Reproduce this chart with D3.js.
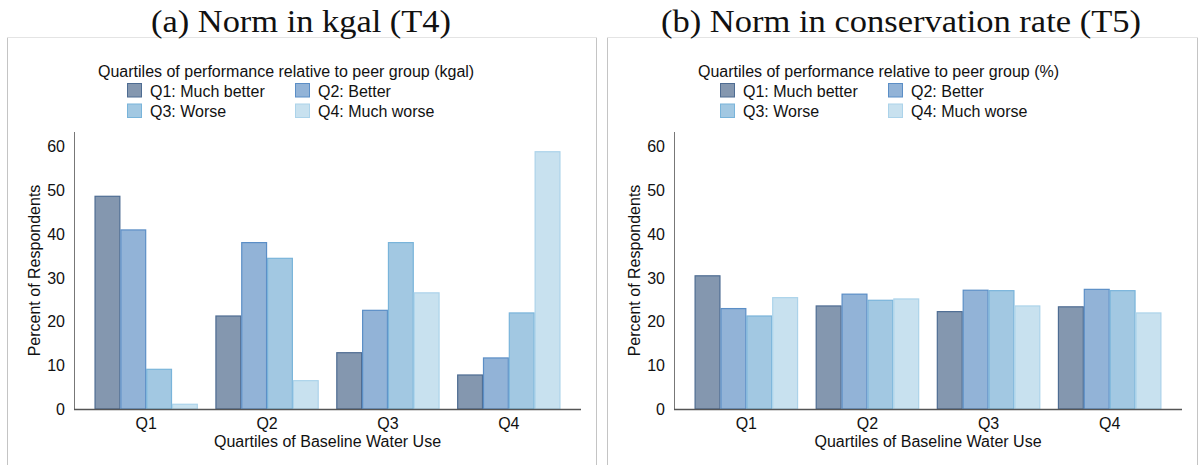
<!DOCTYPE html>
<html>
<head>
<meta charset="utf-8">
<script src="https://cdn.jsdelivr.net/npm/d3@7/dist/d3.min.js"></script>
<style>
  html, body { margin: 0; padding: 0; background: #fff; }
  svg { display: block; }
  .sans { font-family: "Liberation Sans", Arial, Helvetica, sans-serif; }
  .serif { font-family: "Liberation Serif", "DejaVu Serif", serif; }
</style>
</head>
<body>
<svg id="chart" width="1199" height="465"></svg>
<script>
// Baseline water use quartiles (x categories)
const categories = ["Q1", "Q2", "Q3", "Q4"];
// Peer-comparison performance quartiles (bar series)
const seriesNames = ["Q1: Much better", "Q2: Better", "Q3: Worse", "Q4: Much worse"];
const seriesFill = ["#8497af", "#92b3d7", "#a2c8e2", "#c8e1ef"];
const seriesStroke = ["#4e6c92", "#5b8ec6", "#79b4da", "#acd3ea"];
const yTicks = [0, 10, 20, 30, 40, 50, 60];

// Panel (a): norm in kgal — rows = baseline quartile, columns = performance quartile
const kgalValues = [
  [48.8, 41.1, 9.2, 1.2],
  [21.4, 38.2, 34.6, 6.6],
  [13.0, 22.7, 38.2, 26.7],
  [7.9, 11.8, 22.1, 59.0]
];
// Panel (b): norm in conservation rate
const rateValues = [
  [30.6, 23.1, 21.4, 25.6],
  [23.7, 26.4, 25.0, 25.3],
  [22.4, 27.3, 27.2, 23.7],
  [23.5, 27.5, 27.2, 22.1]
];

const panels = [
  { title: "(a) Norm in kgal (T4)", legendTitle: "Quartiles of performance relative to peer group (kgal)",
    values: kgalValues, x0: 0, frame: [7, 596], titleX: 301, titleW: 300,
    legendX: 98, swX: 127, col2: 168, axis: [74, 581] },
  { title: "(b) Norm in conservation rate (T5)", legendTitle: "Quartiles of performance relative to peer group (%)",
    values: rateValues, x0: 600, frame: [607, 1197], titleX: 901, titleW: 480,
    legendX: 698, swX: 720, col2: 168, axis: [674, 1182] }
];

const svg = d3.select("#chart");
const FS = 16;

panels.forEach(p => {
  const g = svg.append("g");

  // panel frame
  g.append("line").attr("x1", p.frame[0] + 0.5).attr("x2", p.frame[0] + 0.5)
    .attr("y1", 37).attr("y2", 470).attr("stroke", "#c4c4c4");
  g.append("line").attr("x1", p.frame[1] + 0.5).attr("x2", p.frame[1] + 0.5)
    .attr("y1", 37).attr("y2", 470).attr("stroke", "#c4c4c4");
  g.append("line").attr("x1", p.frame[0]).attr("x2", p.frame[1] + 1)
    .attr("y1", 37.5).attr("y2", 37.5).attr("stroke", "#e4e4e4");

  // panel title
  g.append("text").attr("class", "serif")
    .attr("x", p.titleX).attr("y", 32)
    .attr("text-anchor", "middle").attr("font-size", 31).attr("fill", "#111")
    .attr("textLength", p.titleW).attr("lengthAdjust", "spacingAndGlyphs")
    .text(p.title);

  const [left, right] = p.axis;
  const yBase = 409, yTop = 132;

  const x = d3.scaleBand().domain(categories).range([left, right])
    .paddingInner(0.1456).paddingOuter(0.17);
  const xs = d3.scaleBand().domain(d3.range(seriesNames.length)).range([0, x.bandwidth()]);
  const y = d3.scaleLinear().domain([0, 63.4]).range([yBase, yTop]);

  // bars
  const groups = g.selectAll(".grp").data(p.values).join("g")
    .attr("transform", (d, i) => `translate(${x(categories[i])},0)`);
  groups.selectAll("rect").data(d => d).join("rect")
    .attr("x", (d, j) => xs(j) + 0.5)
    .attr("y", d => y(d) + 0.5)
    .attr("width", xs.bandwidth() - 1)
    .attr("height", d => yBase - y(d) - 0.5)
    .attr("fill", (d, j) => seriesFill[j])
    .attr("stroke", (d, j) => seriesStroke[j])
    .attr("stroke-width", 1.2);

  // y axis
  const yAxis = d3.axisLeft(y).tickValues(yTicks).tickSize(0).tickPadding(9);
  const ya = g.append("g").attr("transform", `translate(${left},0)`).call(yAxis);
  ya.select(".domain").remove();
  ya.selectAll("text").attr("font-size", FS).attr("fill", "#111")
    .attr("font-family", "Liberation Sans, Arial, sans-serif");
  g.append("line").attr("x1", left + 0.5).attr("x2", left + 0.5)
    .attr("y1", yTop).attr("y2", yBase).attr("stroke", "#777").attr("stroke-width", 1);

  // x axis
  const xAxis = d3.axisBottom(x).tickSize(0).tickPadding(9);
  const xa = g.append("g").attr("transform", `translate(0,${yBase})`).call(xAxis);
  xa.select(".domain").remove();
  xa.selectAll("text").attr("font-size", FS).attr("fill", "#111")
    .attr("font-family", "Liberation Sans, Arial, sans-serif");
  g.append("line").attr("x1", left).attr("x2", right)
    .attr("y1", yBase + 0.5).attr("y2", yBase + 0.5).attr("stroke", "#555").attr("stroke-width", 1.6);

  // axis titles
  g.append("text").attr("class", "sans")
    .attr("x", (left + right) / 2).attr("y", 447)
    .attr("text-anchor", "middle").attr("font-size", FS).attr("fill", "#111")
    .text("Quartiles of Baseline Water Use");
  g.append("text").attr("class", "sans")
    .attr("transform", `translate(${p.x0 + 40},${(yTop + yBase) / 2}) rotate(-90)`)
    .attr("text-anchor", "middle").attr("font-size", FS).attr("fill", "#111")
    .text("Percent of Respondents");

  // legend
  const lg = g.append("g").attr("class", "sans");
  lg.append("text").attr("x", p.legendX).attr("y", 77)
    .attr("font-size", FS).attr("fill", "#111").text(p.legendTitle);
  seriesNames.forEach((name, j) => {
    const col = j % 2, row = Math.floor(j / 2);
    const sx = p.swX + col * p.col2, sy = 83.5 + row * 20.5;
    lg.append("rect").attr("x", sx + 0.5).attr("y", sy)
      .attr("width", 14).attr("height", 13.5)
      .attr("fill", seriesFill[j]).attr("stroke", seriesStroke[j]).attr("stroke-width", 1);
    lg.append("text").attr("x", sx + 23).attr("y", sy + 13)
      .attr("font-size", FS).attr("fill", "#111").text(name);
  });
});
</script>
</body>
</html>
